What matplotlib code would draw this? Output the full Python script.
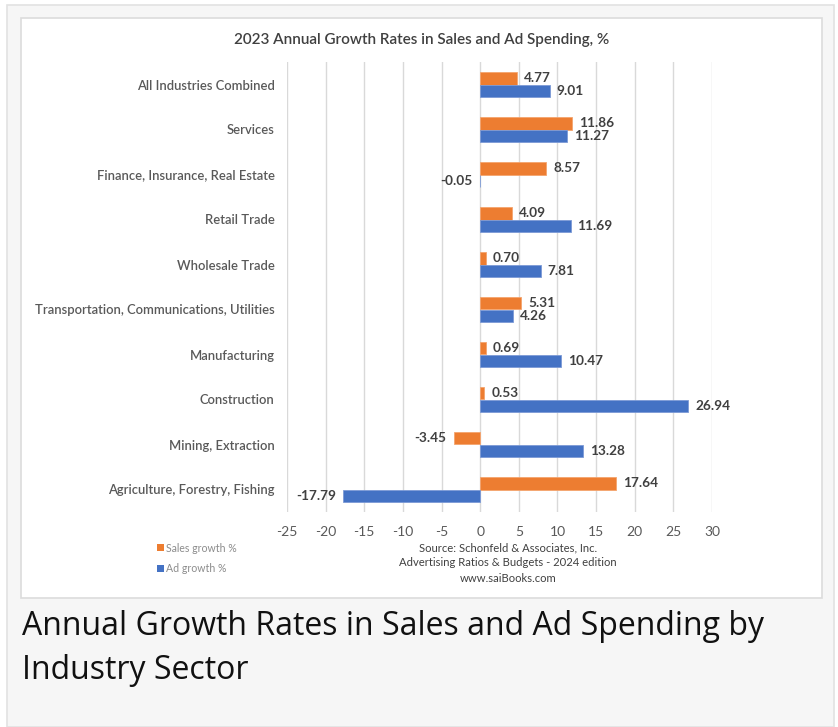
import matplotlib.pyplot as plt
from matplotlib.patches import Rectangle
import numpy as np

# sectors, top to bottom
sectors = ['All Industries Combined', 'Services', 'Finance, Insurance, Real Estate',
           'Retail Trade', 'Wholesale Trade', 'Transportation, Communications, Utilities',
           'Manufacturing', 'Construction', 'Mining, Extraction',
           'Agriculture, Forestry, Fishing']
sales_growth = [4.77, 11.86, 8.57, 4.09, 0.70, 5.31, 0.69, 0.53, -3.45, 17.64]
ad_growth = [9.01, 11.27, -0.05, 11.69, 7.81, 4.26, 10.47, 26.94, 13.28, -17.79]
xticks = [-25, -20, -15, -10, -5, 0, 5, 10, 15, 20, 25, 30]

ORANGE = '#ED7D31'
BLUE = '#4472C4'
chart_font = 'Lato'

W, H = 838, 727
fig = plt.figure(figsize=(W / 100, H / 100), dpi=100)
fig.patch.set_facecolor('white')

def px_box(x0, y0, x1, y1, **kw):
    # rectangle in pixel coords (origin top-left), kept behind the axes
    fig.patches.append(Rectangle((x0 / W, 1 - y1 / H), (x1 - x0) / W, (y1 - y0) / H,
                                 transform=fig.transFigure, zorder=-10, **kw))

# outer grey panel and white chart box
px_box(7, 5, 834, 727, facecolor='#f6f6f6', edgecolor='#e2e2e2', lw=1.2)
px_box(21, 18, 822, 598, facecolor='white', edgecolor='#dcdcdc', lw=1.2)

ax = fig.add_axes([287 / W, 1 - 512 / H, (712 - 287) / W, (512 - 62) / H])
ax.set_facecolor('none')

y = np.arange(len(sectors))
bh = 0.268
off = 0.134
ax.barh(y - off, sales_growth, height=bh, color=ORANGE, edgecolor='#f4a46e', lw=0.6, zorder=3)
ax.barh(y + off, ad_growth, height=bh, color=BLUE, edgecolor='#7c9ad6', lw=0.6, zorder=3)

ax.set_xlim(-25, 30)
ax.set_ylim(len(sectors) - 0.5, -0.5)
ax.set_xticks(xticks)
ax.set_xticklabels([str(t) for t in xticks], fontsize=10, color='#595959', family=chart_font)
ax.set_yticks(y)
ax.set_yticklabels(sectors, fontsize=9.4, color='#595959', family=chart_font, fontweight='semibold')
ax.tick_params(axis='both', length=0)
ax.tick_params(axis='x', pad=10)
ax.tick_params(axis='y', pad=9)
ax.grid(axis='x', color='#d9d9d9', lw=1, zorder=0)
for s in ax.spines.values():
    s.set_visible(False)

# value labels
for vals, shift in ((sales_growth, -off), (ad_growth, off)):
    for i, v in enumerate(vals):
        if v >= 0:
            ax.annotate(f'{v:.2f}', (v, i + shift), xytext=(5, 0), textcoords='offset points',
                        ha='left', va='center', fontsize=9.8, color='#404040',
                        family=chart_font, fontweight='bold')
        else:
            ax.annotate(f'{v:.2f}', (v, i + shift), xytext=(-5, 0), textcoords='offset points',
                        ha='right', va='center', fontsize=9.8, color='#404040',
                        family=chart_font, fontweight='bold')

fig.text(422 / W, 1 - 40 / H, '2023 Annual Growth Rates in Sales and Ad Spending, %',
         ha='center', va='center', fontsize=11, color='#404040', family=chart_font,
         fontweight='semibold')

# legend
for yy, col, lab in ((548, ORANGE, 'Sales growth %'), (569, BLUE, 'Ad growth %')):
    px_box(157, yy - 4, 164, yy + 3, facecolor=col, edgecolor='none')
    fig.text(166 / W, 1 - yy / H, lab, ha='left', va='center', fontsize=7.6,
             color='#8c8c8c', family=chart_font)

# source note
for yy, line in ((548, 'Source: Schonfeld & Associates, Inc.'),
                 (563, 'Advertising Ratios & Budgets - 2024 edition'),
                 (578, 'www.saiBooks.com')):
    fig.text(508 / W, 1 - yy / H, line, ha='center', va='center', fontsize=8.1,
             color='#404040', family=chart_font)

# caption below the chart
fig.text(22 / W, 1 - 635 / H, 'Annual Growth Rates in Sales and Ad Spending by',
         ha='left', va='baseline', fontsize=23, color='#111111', family='Open Sans')
fig.text(22 / W, 1 - 679 / H, 'Industry Sector',
         ha='left', va='baseline', fontsize=23, color='#111111', family='Open Sans')

fig.savefig('out.png', dpi=100, facecolor='white')
